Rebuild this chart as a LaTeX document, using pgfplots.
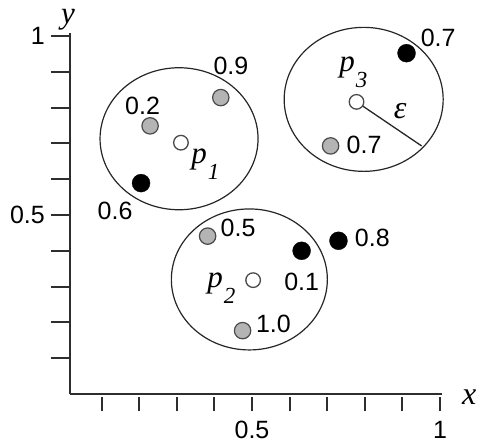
\documentclass[border=0pt]{standalone}
\usepackage{fontspec}
\setmainfont{Liberation Sans}
\newfontfamily\serif{Liberation Serif}
\usepackage{pgfplots}
\usepackage{pgfplotstable}
\pgfplotsset{compat=1.18}
\definecolor{axgray}{HTML}{2E2E2E}
\definecolor{ptgray}{HTML}{B4B4B4}
\definecolor{ptedge}{HTML}{4A4A4A}
\newcommand{\num}{\fontsize{25}{25}\selectfont}
\newcommand{\pl}[1]{{\serif\itshape\fontsize{31}{31}\selectfont p\kern1pt\raisebox{-16pt}{\fontsize{23}{23}\selectfont #1}}}
\pgfplotstableread{
x y
0.229 0.749
0.417 0.828
0.382 0.441
0.475 0.177
0.709 0.693
}\graypts
\pgfplotstableread{
x y
0.205 0.589
0.632 0.400
0.730 0.428
0.911 0.952
}\blackpts
\pgfplotstableread{
x y
0.311 0.702
0.503 0.318
0.778 0.816
}\whitepts
\begin{document}
\begin{tikzpicture}
\useasboundingbox (0,0) rectangle (480pt,446pt);
\begin{axis}[
  at={(70pt,52pt)}, anchor=south west,
  scale only axis, width=372pt, height=361pt,
  xmin=0.016, xmax=1.0053, ymin=0, ymax=1.0084,
  axis lines=left, axis line style={-, line width=2.4pt, color=axgray},
  clip=false,
  tick align=outside,
  major tick length=19pt,
  xtick={0.1,0.2,0.3,0.4,0.5,0.6,0.7,0.8,0.9,1.0},
  ytick={0.1,0.2,0.3,0.4,0.5,0.6,0.7,0.8,0.9,1.0},
  xticklabels={,,,,0.5,,,,,1},
  yticklabels={,,,,0.5,,,,,1},
  tick style={line width=2pt, color=axgray},
  xtick style={/pgfplots/major tick length=14pt, yshift=-3.5pt},
  ticklabel style={font=\num, color=black},
  xticklabel style={anchor=north, inner sep=0pt, yshift=-8pt},
  yticklabel style={anchor=east, inner sep=0pt, xshift=-6pt},
]
% eps-neighbourhoods
\draw[line width=1.2pt, color=black!85] (axis cs:0.306,0.713) ellipse [x radius=79pt, y radius=71pt];
\draw[line width=1.2pt, color=black!85] (axis cs:0.493,0.320) ellipse [x radius=78pt, y radius=70.5pt];
\draw[line width=1.2pt, color=black!85] (axis cs:0.797,0.823) ellipse [x radius=79.5pt, y radius=72pt];
\draw[line width=1.3pt, color=black!85] (axis cs:0.778,0.816) -- (axis cs:0.951,0.693);
% points
\addplot[only marks, mark=*, mark size=8.2pt, mark options={fill=ptgray, draw=ptedge, line width=1.2pt}] table {\graypts};
\addplot[only marks, mark=*, mark size=9pt, mark options={fill=black, draw=black, line width=0.3pt}] table {\blackpts};
\addplot[only marks, mark=*, mark size=7.3pt, mark options={fill=white, draw=ptedge, line width=1.3pt}] table {\whitepts};
% probability labels
\node[font=\num, inner sep=0] at (axis cs:0.209,0.806) {0.2};
\node[font=\num, inner sep=0] at (axis cs:0.444,0.917) {0.9};
\node[font=\num, inner sep=0] at (axis cs:0.136,0.512) {0.6};
\node[font=\num, inner sep=0] at (axis cs:0.463,0.465) {0.5};
\node[font=\num, inner sep=0] at (axis cs:0.632,0.314) {0.1};
\node[font=\num, inner sep=0] at (axis cs:0.557,0.195) {1.0};
\node[font=\num, inner sep=0] at (axis cs:0.820,0.435) {0.8};
\node[font=\num, inner sep=0] at (axis cs:0.995,0.996) {0.7};
\node[font=\num, inner sep=0] at (axis cs:0.798,0.697) {0.7};
% object labels
\node[inner sep=0, anchor=base west] at (axis cs:0.338,0.645) {\pl{1}};
\node[inner sep=0, anchor=base west] at (axis cs:0.381,0.297) {\pl{2}};
\node[inner sep=0, anchor=base west] at (axis cs:0.732,0.902) {\pl{3}};
\node[inner sep=0, font=\serif\itshape\fontsize{32}{32}\selectfont] at (axis cs:0.894,0.791) {ε};
% axis labels
\node[inner sep=0, anchor=base, font=\serif\itshape\fontsize{31}{31}\selectfont] at (axis cs:0.011,1.035) {y};
\node[inner sep=0, font=\serif\itshape\fontsize{32}{32}\selectfont] at (axis cs:1.078,-0.01) {x};
\end{axis}
\end{tikzpicture}
\end{document}
